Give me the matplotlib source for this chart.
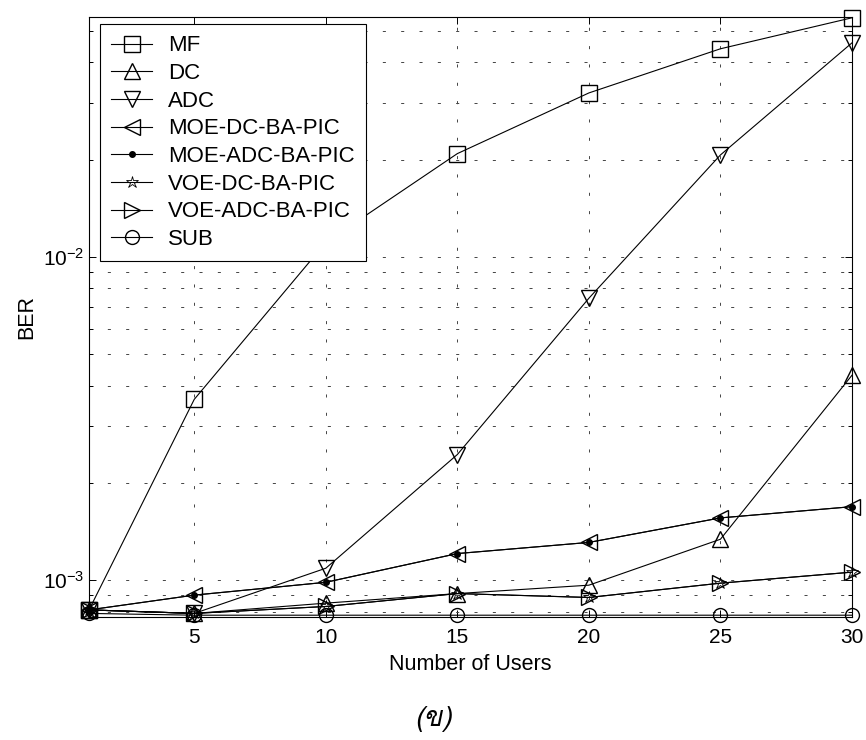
import matplotlib
matplotlib.use("Agg")
import matplotlib.pyplot as plt
from matplotlib import font_manager
from matplotlib.ft2font import FT2Font
from matplotlib.ticker import LogLocator, NullFormatter, FixedLocator

# Data (BER versus number of users)
users = [1, 5, 10, 15, 20, 25, 30]
ber_mf = [8.1e-4, 3.63e-3, 1.11e-2, 2.09e-2, 3.22e-2, 4.41e-2, 5.50e-2]
ber_dc = [8.1e-4, 7.9e-4, 8.5e-4, 9.1e-4, 9.66e-4, 1.34e-3, 4.31e-3]
ber_adc = [8.1e-4, 7.9e-4, 1.09e-3, 2.45e-3, 7.46e-3, 2.07e-2, 4.60e-2]
ber_moe_dc = [8.1e-4, 9.0e-4, 9.86e-4, 1.21e-3, 1.31e-3, 1.56e-3, 1.69e-3]
ber_moe_adc = [8.1e-4, 9.0e-4, 9.86e-4, 1.21e-3, 1.31e-3, 1.56e-3, 1.69e-3]
ber_voe_dc = [8.1e-4, 7.9e-4, 8.3e-4, 9.1e-4, 8.85e-4, 9.8e-4, 1.06e-3]
ber_voe_adc = [8.1e-4, 7.9e-4, 8.3e-4, 9.1e-4, 8.85e-4, 9.8e-4, 1.06e-3]
ber_sub = [7.9e-4, 7.8e-4, 7.8e-4, 7.8e-4, 7.8e-4, 7.8e-4, 7.8e-4]

labels = ["MF", "DC", "ADC", "MOE-DC-BA-PIC", "MOE-ADC-BA-PIC",
          "VOE-DC-BA-PIC", "VOE-ADC-BA-PIC", "SUB"]
x_ticks = [5, 10, 15, 20, 25, 30]
caption = "(\u0e02)"


def thai_font():
    # pick any installed font that actually has the Thai glyph
    for f in font_manager.fontManager.ttflist:
        try:
            if 0x0E02 in FT2Font(f.fname).get_charmap():
                return f.name
        except Exception:
            continue
    return "DejaVu Sans"


plt.rcParams['font.family'] = ['Liberation Sans', 'DejaVu Sans']
plt.rcParams['lines.scale_dashes'] = False

fig = plt.figure(figsize=(8.66, 7.4), dpi=100)
ax = fig.add_axes([0.1028, 0.1662, 0.8810, 0.8108])

series = [
    (ber_mf, dict(marker='s', markersize=11, fillstyle='none')),
    (ber_dc, dict(marker='^', markersize=12, fillstyle='none')),
    (ber_adc, dict(marker='v', markersize=12, fillstyle='none')),
    (ber_moe_dc, dict(marker='<', markersize=12, fillstyle='none')),
    (ber_moe_adc, dict(marker='.', markersize=8)),
    (ber_voe_dc, dict(marker='*', markersize=9, fillstyle='none', markeredgewidth=0.6)),
    (ber_voe_adc, dict(marker='>', markersize=12, fillstyle='none')),
    (ber_sub, dict(marker='o', markersize=10, fillstyle='none')),
]

for (vals, style), lab in zip(series, labels):
    ax.plot(users, vals, color='black', linewidth=0.8, label=lab,
            clip_on=False, zorder=3, **style)

ax.set_yscale('log')
ax.set_xlim(1, 30)
ax.set_ylim(7.7e-4, 0.0553)

ax.xaxis.set_major_locator(FixedLocator(x_ticks))
ax.yaxis.set_major_locator(LogLocator(base=10))
ax.yaxis.set_minor_locator(LogLocator(base=10, subs=range(2, 10)))
ax.yaxis.set_minor_formatter(NullFormatter())

grid_style = dict(color='#444444', linewidth=0.7, linestyle=(0, (2.2, 11)))
ax.grid(True, which='major', axis='both', **grid_style)
ax.grid(True, which='minor', axis='y', **grid_style)

ax.tick_params(which='both', direction='in', top=True, right=True,
               labelsize=15, width=0.7)
ax.tick_params(which='major', length=5)
ax.tick_params(axis='x', which='major', pad=8)
ax.tick_params(which='minor', length=3)
for sp in ax.spines.values():
    sp.set_linewidth(0.8)

ax.set_xlabel("Number of Users", fontsize=15.5, labelpad=5)
ax.set_ylabel("BER", fontsize=15.5, labelpad=4)

leg = ax.legend(loc='upper left', bbox_to_anchor=(0.0144, 0.988),
                borderaxespad=0, fontsize=16, fancybox=False,
                edgecolor='black', framealpha=1, handlelength=1.85,
                handletextpad=0.7, labelspacing=0.3, borderpad=0.5)
leg.get_frame().set_linewidth(0.8)

fig.text(0.5, 0.028, caption, ha='center', va='center', fontsize=20,
         style='italic', family=[thai_font(), 'DejaVu Sans'])

fig.savefig("out.png", dpi=100)
